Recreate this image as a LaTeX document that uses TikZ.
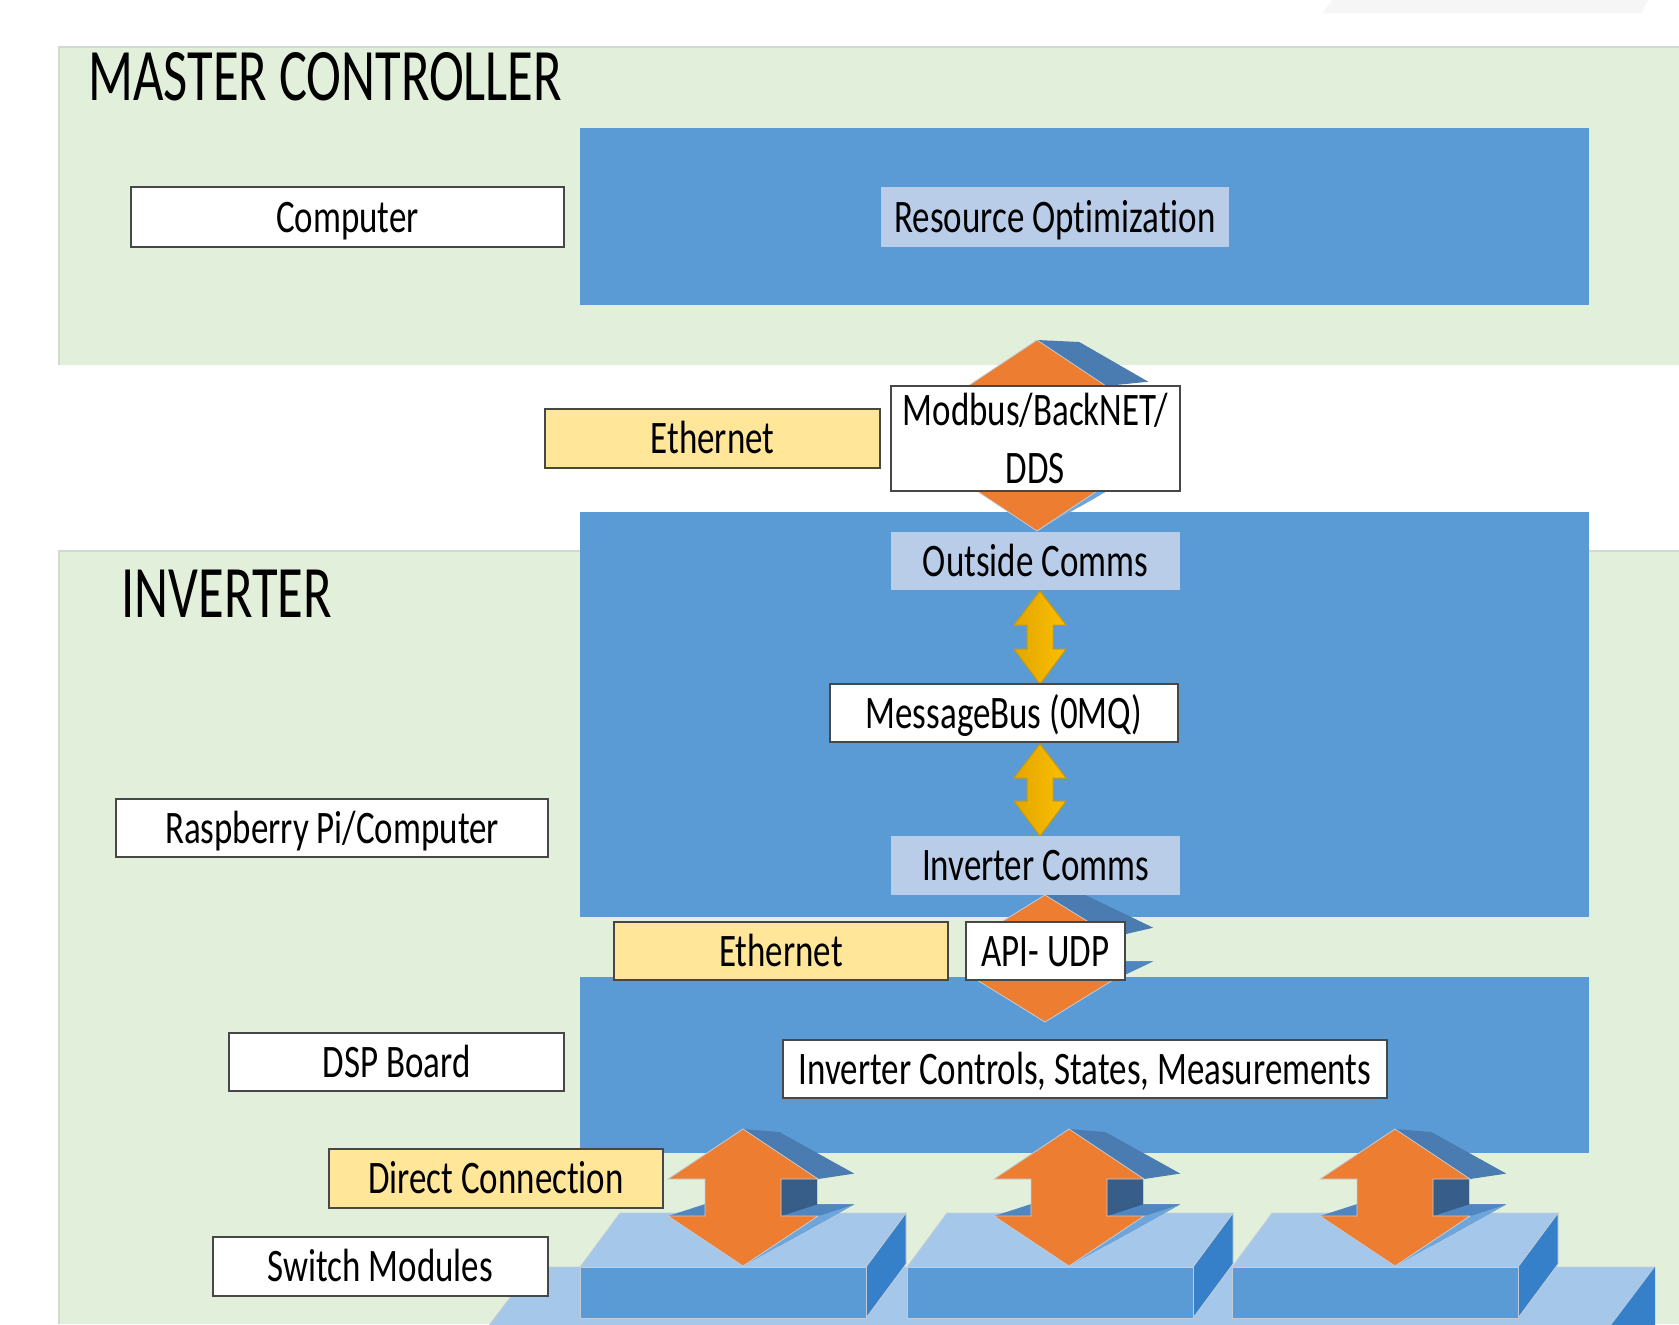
\documentclass[tikz,border=0pt]{standalone}
\usepackage{fontspec}
\setmainfont{Carlito}[Ligatures=NoCommon]
\usepackage{graphicx}

\definecolor{panel}{HTML}{E2EFDA}
\definecolor{paneledge}{HTML}{D3D9CF}
\definecolor{blk}{HTML}{5B9BD5}
\definecolor{lite}{HTML}{B9CCE8}
\definecolor{yel}{HTML}{FFE699}
\definecolor{org}{HTML}{ED7D31}
\definecolor{topface}{HTML}{A5C8EA}
\definecolor{sideface}{HTML}{3580C8}
\definecolor{ext}{HTML}{4A7CB1}
\definecolor{extdark}{HTML}{375E88}
\definecolor{extmid}{HTML}{4F86C0}
\definecolor{extlight}{HTML}{6EA6DC}
\definecolor{gold}{HTML}{FFC000}
\definecolor{golddk}{HTML}{E2A600}
\definecolor{goldedge}{HTML}{C99B00}
\definecolor{edgegray}{HTML}{C3CCD6}

% condensed label text
\newcommand\squeeze[1]{\scalebox{0.75}[1]{#1}}

% label box from its corners: [style]{name}{x1}{y1}{x2}{y2}{text}
\newcommand\lblbox[7][lbl]{%
  \pgfmathsetmacro\bxc{(#3+#5)/2}%
  \pgfmathsetmacro\byc{(#4+#6)/2}%
  \pgfmathsetmacro\bxw{(#5-#3)*0.5}%
  \pgfmathsetmacro\byh{(#6-#4)*0.5}%
  \node[#1, minimum width=\bxw pt, minimum height=\byh pt] (#2) at (\bxc,\byc) {#7};
}

% 3-D up/down block arrow:
% {cx}{top}{bottom}{head half width}{head height}{shaft half width}{depth dx}{depth dy at top}{depth dy at bottom}
\newcommand\udarrow[9]{%
  \pgfmathsetmacro\arX{#1}%
  \pgfmathsetmacro\arT{#2}%
  \pgfmathsetmacro\arB{#3}%
  \pgfmathsetmacro\arU{#2+#5}%
  \pgfmathsetmacro\arL{#3-#5}%
  \pgfmathsetmacro\arTb{#2+#8}%
  \pgfmathsetmacro\arUb{#2+#5+#8+(#9-(#8))*#5/(#3-#2)}%
  \pgfmathsetmacro\arLb{#3-#5+#8+(#9-(#8))*(#3-#2-#5)/(#3-#2)}%
  \pgfmathsetmacro\arBb{#3+#9}%
  \pgfmathsetmacro\xr{#1+#4}%
  \pgfmathsetmacro\xl{#1-#4}%
  \pgfmathsetmacro\sr{#1+#6}%
  \pgfmathsetmacro\sl{#1-#6}%
  \pgfmathsetmacro\xc{#1+#7}%
  \pgfmathsetmacro\xrb{#1+#4+#7}%
  \pgfmathsetmacro\xlb{#1-#4+#7}%
  \pgfmathsetmacro\srb{#1+#6+#7}%
  \pgfmathsetmacro\slb{#1-#6+#7}%
  % back face
  \fill[ext] (\xc,\arTb) -- (\xrb,\arUb) -- (\srb,\arUb) -- (\srb,\arLb) -- (\xrb,\arLb)
    -- (\xc,\arBb) -- (\xlb,\arLb) -- (\slb,\arLb) -- (\slb,\arUb) -- (\xlb,\arUb) -- cycle;
  % lower right slope
  \fill[extlight] (\xr,\arL) -- (\arX,\arB) -- (\xc,\arBb) -- (\xrb,\arLb) -- cycle;
  % upper faces of the lower wings
  \fill[extmid] (\sr,\arL) -- (\xr,\arL) -- (\xrb,\arLb) -- (\srb,\arLb) -- cycle;
  \fill[extmid] (\xl,\arL) -- (\sl,\arL) -- (\slb,\arLb) -- (\xlb,\arLb) -- cycle;
  % right side of the shaft
  \fill[extdark] (\sr,\arU) -- (\sr,\arL) -- (\srb,\arLb) -- (\srb,\arUb) -- cycle;
  % upper right slope
  \fill[ext] (\arX,\arT) -- (\xr,\arU) -- (\xrb,\arUb) -- (\xc,\arTb) -- cycle;
  % front face
  \filldraw[fill=org, draw=edgegray, line width=0.4pt] (\arX,\arT) -- (\xr,\arU) -- (\sr,\arU)
    -- (\sr,\arL) -- (\xr,\arL) -- (\arX,\arB) -- (\xl,\arL) -- (\sl,\arL) -- (\sl,\arU)
    -- (\xl,\arU) -- cycle;
}

% flat golden up/down arrow: {cx}{top}{bottom}
\newcommand\ylarrow[3]{%
  \shadedraw[left color=golddk, middle color=gold, right color=gold!92!golddk,
    draw=goldedge, line width=0.5pt]
    (#1,#2) -- (#1+26,#2+34) -- (#1+13,#2+34) -- (#1+13,#3-35) -- (#1+26,#3-35)
    -- (#1,#3) -- (#1-26,#3-35) -- (#1-13,#3-35) -- (#1-13,#2+34) -- (#1-26,#2+34) -- cycle;
}

% switch module block with its left front corner at x
\newcommand\swblock[1]{%
  \filldraw[fill=topface, draw=edgegray, line width=0.4pt]
    (#1,1267) -- (#1+286,1267) -- (#1+326,1213) -- (#1+40,1213) -- cycle;
  \filldraw[fill=sideface, draw=edgegray, line width=0.4pt]
    (#1+286,1267) -- (#1+326,1213) -- (#1+326,1264) -- (#1+286,1318) -- cycle;
  \filldraw[fill=blk, draw=edgegray, line width=0.4pt] (#1,1267) rectangle (#1+286,1318);
}

\tikzset{
  lblfont/.style={font=\fontsize{23.3}{27}\selectfont},
  lbl/.style={lblfont, draw=black!72, line width=0.6pt, fill=white, inner sep=0pt,
    text height=15pt, text depth=0pt},
  ylbl/.style={lbl, fill=yel},
  blbl/.style={lbl, draw=none, fill=lite},
  mlbl/.style={lblfont, draw=black!72, line width=0.6pt, fill=white, inner sep=0pt,
    align=center},
  title/.style={anchor=base west, font=\fontsize{37}{44}\selectfont, inner sep=0pt},
}

\begin{document}
\begin{tikzpicture}[x=0.5pt, y=-0.5pt]
  \useasboundingbox (0,0) rectangle (1679,1324);
  \clip (0,0) rectangle (1679,1324);
  \fill[white] (0,0) rectangle (1679,1324);
  \fill[gray!7] (1332,0) -- (1648,0) -- (1642,13) -- (1323,13) -- cycle;

  % panels
  \fill[panel] (59,47) rectangle (1679,365);
  \draw[paneledge, line width=1pt] (59,365) -- (59,47) -- (1679,47);
  \fill[panel] (59,551) rectangle (1679,1324);
  \draw[paneledge, line width=1pt] (59,1324) -- (59,551) -- (1679,551);

  % blue layers
  \fill[blk] (580,128) rectangle (1589,305);
  \fill[blk] (580,512) rectangle (1589,917);
  \fill[blk] (580,977) rectangle (1589,1153);

  % switch module base plate
  \filldraw[fill=topface, draw=edgegray, line width=0.4pt]
    (533,1267) -- (1655,1267) -- (1600,1340) -- (478,1340) -- cycle;
  \fill[sideface] (1655,1267) -- (1655,1340) -- (1600,1340) -- cycle;
  \swblock{580}
  \swblock{907}
  \swblock{1232}

  % titles
  \node[title] (mctitle) at (88,100) {\scalebox{0.71}[1]{MASTER CONTROLLER}};
  \node[title] (invtitle) at (121,617) {\scalebox{0.71}[1]{INVERTER}};

  % protocol arrows
  \udarrow{1037}{340}{531}{69}{46}{36}{42}{2}{-24}
  \udarrow{1045}{895}{1022}{68}{42}{36}{40}{0}{-28}

  % internal message arrows
  \ylarrow{1040}{591}{684}
  \ylarrow{1040}{744}{836}

  % direct connections to the switch modules
  \udarrow{743}{1129}{1266}{75}{50}{38}{36}{3}{-20}
  \udarrow{1069}{1129}{1266}{75}{50}{38}{36}{3}{-20}
  \udarrow{1395}{1129}{1266}{75}{50}{38}{36}{3}{-20}

  % labels
  \lblbox{computer}{131}{187}{564}{247}{\squeeze{Computer}}
  \lblbox[blbl]{resopt}{881}{187}{1229}{247}{\squeeze{Resource Optimization}}
  \lblbox[ylbl]{eth1}{545}{409}{880}{468}{\squeeze{Ethernet}}
  \lblbox[mlbl]{modbus}{891}{386}{1180}{491}{\squeeze{Modbus/BackNET/}\\[2pt]\squeeze{DDS}}
  \lblbox[blbl]{outside}{891}{532}{1180}{590}{\squeeze{Outside Comms}}
  \lblbox{msgbus}{830}{684}{1178}{742}{\squeeze{MessageBus (0MQ)}}
  \lblbox{rpi}{116}{799}{548}{857}{\squeeze{Raspberry Pi/Computer}}
  \lblbox[blbl]{invcomms}{891}{836}{1180}{895}{\squeeze{Inverter Comms}}
  \lblbox[ylbl]{eth2}{614}{922}{948}{980}{\squeeze{Ethernet}}
  \lblbox{api}{966}{922}{1125}{980}{\squeeze{API- UDP}}
  \lblbox{dsp}{229}{1033}{564}{1091}{\squeeze{DSP Board}}
  \lblbox{invctl}{783}{1040}{1387}{1098}{\squeeze{Inverter Controls, States, Measurements}}
  \lblbox[ylbl]{direct}{329}{1149}{663}{1208}{\squeeze{Direct Connection}}
  \lblbox{switch}{213}{1237}{548}{1296}{\squeeze{Switch Modules}}
\end{tikzpicture}
\end{document}
